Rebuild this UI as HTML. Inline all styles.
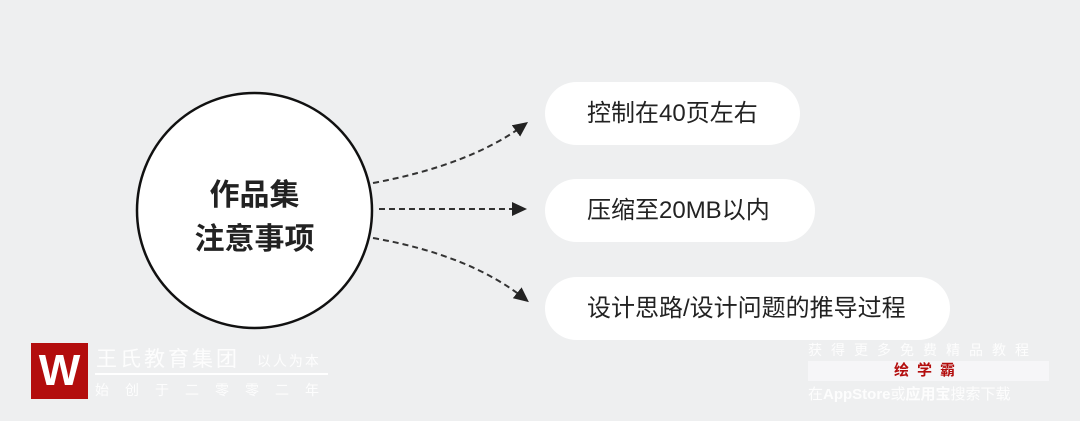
<!DOCTYPE html>
<html><head><meta charset="utf-8"><style>
body{margin:0;width:1080px;height:421px;background:#eeeff0;position:relative;overflow:hidden;font-family:"Liberation Sans","Noto Sans CJK SC",sans-serif}
.pill{position:absolute;background:#fff;border-radius:32px;height:63px;line-height:63px;font-size:24px;color:#222;padding-left:42px;box-sizing:border-box}
.ct{position:absolute;left:137px;width:235px;text-align:center;font-size:30px;font-weight:bold;color:#222}
</style></head><body>
<svg width="1080" height="421" style="position:absolute;left:0;top:0">
<defs><marker id="a" markerWidth="16" markerHeight="14" refX="10" refY="7" orient="auto" markerUnits="userSpaceOnUse"><path d="M0,0 L15,7 L0,14 z" fill="#222"/></marker></defs>
<circle cx="254.5" cy="210.5" r="117.5" fill="#fff" stroke="#111" stroke-width="2.5"/>
<g fill="none" stroke="#333" stroke-width="2" stroke-dasharray="6,4">
<path d="M373,183 Q470,165 524,125" marker-end="url(#a)"/>
<path d="M379,209 L522,209" marker-end="url(#a)"/>
<path d="M373,238 Q470,255 525,299" marker-end="url(#a)"/>
</g>
</svg>
<div class="ct" style="top:170px">作品集</div>
<div class="ct" style="top:214px">注意事项</div>
<div class="pill" style="left:545px;top:82px;width:255px">控制在40页左右</div>
<div class="pill" style="left:545px;top:179px;width:270px">压缩至20MB以内</div>
<div class="pill" style="left:545px;top:277px;width:405px">设计思路/设计问题的推导过程</div>
<div style="position:absolute;left:31px;top:343px;width:57px;height:56px;background:#b30d0d;color:#fff;font-size:44px;font-weight:bold;text-align:center;line-height:56px">W</div>
<div style="position:absolute;left:96px;top:343px;color:#fff;font-size:21px;letter-spacing:3px;opacity:.9">王氏教育集团 <span style="font-size:14px;letter-spacing:2px;margin-left:8px">以人为本</span></div>
<div style="position:absolute;left:95px;top:373px;width:233px;height:2px;background:#fff"></div>
<div style="position:absolute;left:95px;top:380px;color:#fff;font-size:14px;letter-spacing:16px;opacity:.9">始创于二零零二年</div>
<div style="position:absolute;left:808px;top:340px;color:#fff;font-size:14px;letter-spacing:9px;opacity:.9">获得更多免费精品教程</div>
<div style="position:absolute;left:808px;top:361px;width:241px;height:20px;background:#f6f6f8;text-align:center;color:#b30d0d;font-weight:bold;font-size:15px;line-height:20px;letter-spacing:8px">绘学霸</div>
<div style="position:absolute;left:808px;top:383px;color:#fff;font-size:15px;opacity:.9">在<b>AppStore</b>或<b>应用宝</b>搜索下载</div>
</body></html>
